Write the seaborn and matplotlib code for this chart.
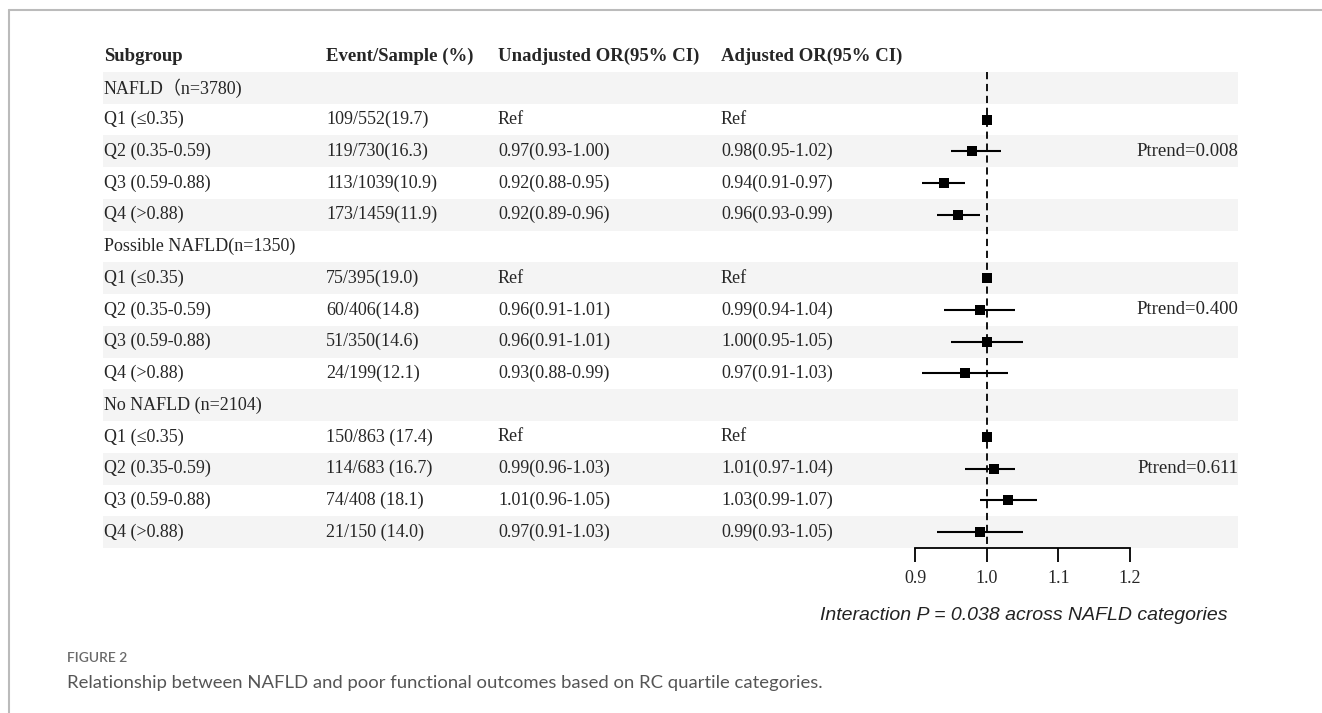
import numpy as np
import pandas as pd
import matplotlib.pyplot as plt
import matplotlib.transforms as mtransforms
import seaborn as sns

# table rows
subgroups = ['NAFLD\uff08n=3780)', 'Q1 (\u22640.35)', 'Q2 (0.35-0.59)', 'Q3 (0.59-0.88)', 'Q4 (>0.88)',
             'Possible NAFLD(n=1350)', 'Q1 (\u22640.35)', 'Q2 (0.35-0.59)', 'Q3 (0.59-0.88)', 'Q4 (>0.88)',
             'No NAFLD (n=2104)', 'Q1 (\u22640.35)', 'Q2 (0.35-0.59)', 'Q3 (0.59-0.88)', 'Q4 (>0.88)']
events = ['', '109/552(19.7)', '119/730(16.3)', '113/1039(10.9)', '173/1459(11.9)',
          '', '75/395(19.0)', '60/406(14.8)', '51/350(14.6)', '24/199(12.1)',
          '', '150/863 (17.4)', '114/683 (16.7)', '74/408 (18.1)', '21/150 (14.0)']
unadj = ['', 'Ref', '0.97(0.93-1.00)', '0.92(0.88-0.95)', '0.92(0.89-0.96)',
         '', 'Ref', '0.96(0.91-1.01)', '0.96(0.91-1.01)', '0.93(0.88-0.99)',
         '', 'Ref', '0.99(0.96-1.03)', '1.01(0.96-1.05)', '0.97(0.91-1.03)']
adj = ['', 'Ref', '0.98(0.95-1.02)', '0.94(0.91-0.97)', '0.96(0.93-0.99)',
       '', 'Ref', '0.99(0.94-1.04)', '1.00(0.95-1.05)', '0.97(0.91-1.03)',
       '', 'Ref', '1.01(0.97-1.04)', '1.03(0.99-1.07)', '0.99(0.93-1.05)']

# adjusted OR for the forest plot (rows with a value)
or_rows = [1, 2, 3, 4, 6, 7, 8, 9, 11, 12, 13, 14]
or_val = [1.00, 0.98, 0.94, 0.96, 1.00, 0.99, 1.00, 0.97, 1.00, 1.01, 1.03, 0.99]
or_lo = [1.00, 0.95, 0.91, 0.93, 1.00, 0.94, 0.95, 0.91, 1.00, 0.97, 0.99, 0.93]
or_hi = [1.00, 1.02, 0.97, 0.99, 1.00, 1.04, 1.05, 1.03, 1.00, 1.04, 1.07, 1.05]

ptrend_rows = [2, 7, 12]
ptrend = ['Ptrend=0.008', 'Ptrend=0.400', 'Ptrend=0.611']

headers = ['Subgroup', 'Event/Sample (%)', 'Unadjusted OR(95% CI)', 'Adjusted OR(95% CI)']
xticks = [0.9, 1.0, 1.1, 1.2]

df = pd.DataFrame({'row': or_rows, 'or': or_val, 'lo': or_lo, 'hi': or_hi})

sns.set_style('white')
serif = ['Liberation Serif', 'Noto Sans CJK SC', 'DejaVu Serif']
plt.rcParams['font.family'] = serif

W, H = 1322, 713
fig = plt.figure(figsize=(W / 100, H / 100), dpi=100)

# axes spanning the table area, x in OR units
ax_l, ax_r, ax_t, ax_b = 103, 1238, 40, 548
ax = fig.add_axes([ax_l / W, 1 - ax_b / H, (ax_r - ax_l) / W, (ax_b - ax_t) / H])
ppu = (1130 - 915) / 0.3
ax.set_xlim(0.9 - (915 - ax_l) / ppu, 1.2 + (ax_r - 1130) / ppu)
row_h = (548 - 72) / 15
ax.set_ylim(14.5, -0.5 - (72 - ax_t) / row_h)

# striped background
for i in range(0, 15, 2):
    ax.axhspan(i - 0.5, i + 0.5, color='#f4f4f4', lw=0, zorder=0)

# reference line
ax.vlines(1.0, -0.5, 14.5, colors='black', linestyles=(0, (4, 2.6)), lw=1.3, zorder=2)

# CI lines and points
ax.hlines(df['row'], df['lo'], df['hi'], colors='black', lw=1.5, zorder=3)
sns.scatterplot(data=df, x='or', y='row', marker='s', color='black', s=62,
                edgecolor='black', linewidth=0, ax=ax, zorder=4, legend=False)

# table text (x in figure fraction, y in rows)
xform = mtransforms.blended_transform_factory(fig.transFigure, ax.transData)
col_x = [104, 326, 498, 721]
for cx, h in zip(col_x, headers):
    ax.text(cx / W, -1, h, transform=xform, fontsize=13.5, fontweight='bold',
            va='center', ha='left')
for i in range(15):
    for cx, col in zip(col_x, [subgroups, events, unadj, adj]):
        if col[i]:
            ax.text(cx / W, i, col[i], transform=xform, fontsize=13, va='center', ha='left')
for r, t in zip(ptrend_rows, ptrend):
    ax.text(1238 / W, r, t, transform=xform, fontsize=13.5, va='center', ha='right')

# axis
for s in ['top', 'left', 'right']:
    ax.spines[s].set_visible(False)
ax.spines['bottom'].set_bounds(0.9, 1.2)
ax.spines['bottom'].set_linewidth(1.3)
ax.spines['bottom'].set_color('black')
ax.set_xticks(xticks)
ax.set_xticklabels([f'{t:.1f}' for t in xticks])
ax.tick_params(axis='x', direction='out', length=10, width=1.3, color='black',
               labelsize=13, pad=6, bottom=True)
ax.set_yticks([])
ax.set_xlabel('')
ax.set_ylabel('')

fig.text(1227 / W, 1 - 615 / H, 'Interaction P = 0.038 across NAFLD categories',
         fontsize=14, style='italic', family='Liberation Sans', color='#222222',
         ha='right', va='center')

# caption
fig.text(67 / W, 1 - 658 / H, 'FIGURE 2', fontsize=10, family='Lato', fontweight='semibold',
         color='#6a6a6a', ha='left', va='center')
fig.text(67 / W, 1 - 683 / H, 'Relationship between NAFLD and poor functional outcomes based on RC quartile categories.',
         fontsize=13.3, family='Lato', color='#555555', ha='left', va='center')

# frame lines
fig.add_artist(plt.Line2D([9 / W, 1], [1 - 10 / H, 1 - 10 / H], transform=fig.transFigure,
                          color='#bbbbbb', lw=1.5))
fig.add_artist(plt.Line2D([9 / W, 9 / W], [0, 1 - 10 / H], transform=fig.transFigure,
                          color='#bbbbbb', lw=1.5))

fig.savefig('out.png', dpi=100)
